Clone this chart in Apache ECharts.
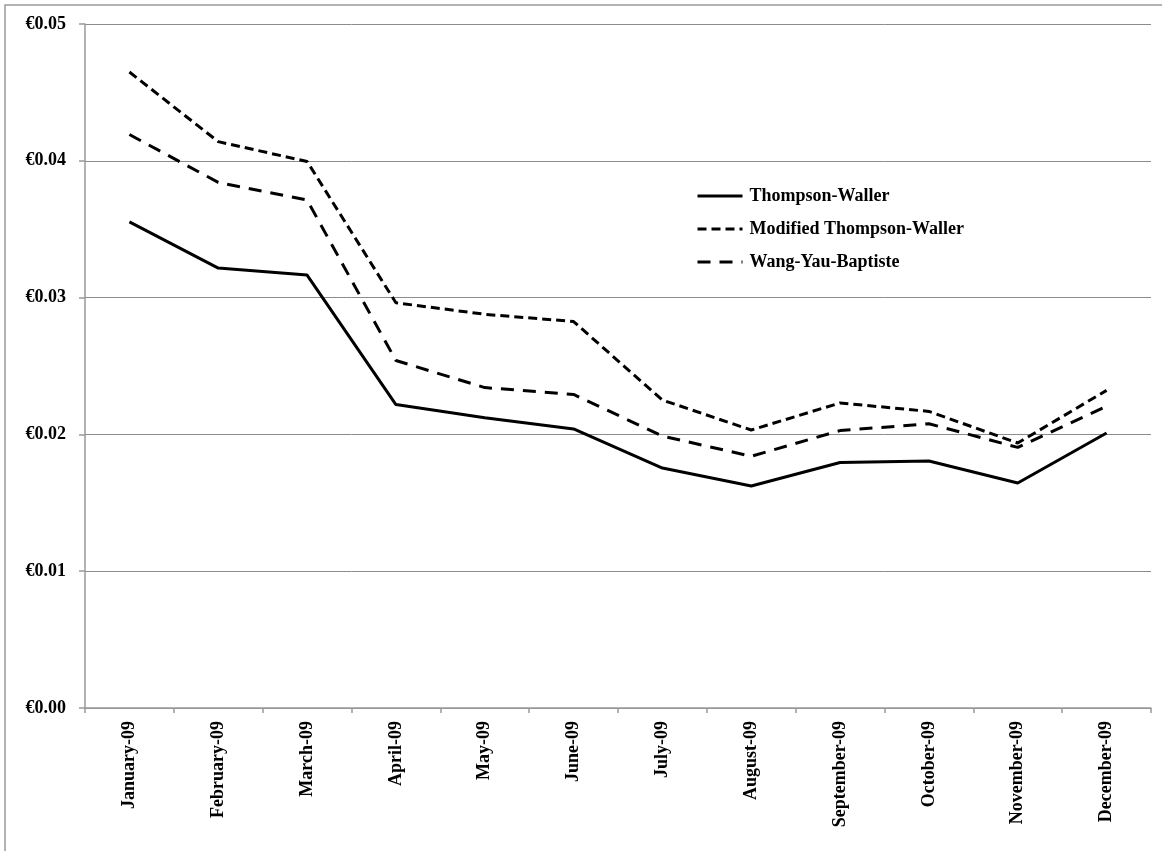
<!DOCTYPE html>
<html>
<head>
<meta charset="utf-8">
<script src="https://cdn.jsdelivr.net/npm/echarts@6/dist/echarts.min.js"></script>
<style>html,body{margin:0;padding:0;background:#fff}#c{width:1162px;height:851px}</style>
</head>
<body>
<div id="c"></div>
<script>
const categories = ['January-09','February-09','March-09','April-09','May-09','June-09','July-09','August-09','September-09','October-09','November-09','December-09'];
const thompsonWaller = [0.03553,0.03216,0.03165,0.02218,0.02122,0.02040,0.01754,0.01623,0.01795,0.01806,0.01645,0.02010];
const modifiedTW = [0.04649,0.04140,0.03995,0.02962,0.02878,0.02825,0.02251,0.02032,0.02230,0.02168,0.01937,0.02322];
const wangYauBaptiste = [0.04192,0.03842,0.03713,0.02540,0.02342,0.02292,0.01988,0.01840,0.02028,0.02078,0.01905,0.02205];
const yTicks = [0, 0.01, 0.02, 0.03, 0.04, 0.05];

const font = '"Liberation Serif", "Times New Roman", serif';
const chart = echarts.init(document.getElementById('c'));
chart.setOption({
  animation: false,
  backgroundColor: '#fff',
  graphic: [{
    type: 'rect',
    shape: { x: 5, y: 5, width: 1200, height: 900 },
    style: { fill: 'none', stroke: '#9a9a9a', lineWidth: 1.5 }
  }],
  grid: { left: 85, right: 11, top: 24, bottom: 143 },
  legend: {
    orient: 'vertical', left: 691, top: 182,
    itemWidth: 45, itemHeight: 14, itemGap: 15,
    itemStyle: { opacity: 0 },
    lineStyle: { width: 3 },
    textStyle: { fontFamily: font, fontWeight: 'bold', fontSize: 18, color: '#000', padding: [0, 0, 0, 2] },
    data: ['Thompson-Waller', 'Modified Thompson-Waller', 'Wang-Yau-Baptiste']
  },
  xAxis: {
    type: 'category', data: categories, boundaryGap: true,
    axisLine: { lineStyle: { color: '#999', width: 1.5 } },
    axisTick: { show: true, length: 5, alignWithLabel: false, lineStyle: { color: '#999', width: 1.5 } },
    axisLabel: { rotate: 90, margin: 13, interval: 0, fontFamily: font, fontWeight: 'bold', fontSize: 18, color: '#000' }
  },
  yAxis: {
    type: 'value', min: yTicks[0], max: yTicks[yTicks.length - 1], interval: 0.01,
    axisLine: { show: true, lineStyle: { color: '#999', width: 1.5 } },
    axisTick: { show: true, length: 6, lineStyle: { color: '#999', width: 1.5 } },
    splitLine: { lineStyle: { color: '#8c8c8c', width: 1 } },
    axisLabel: { margin: 19, fontFamily: font, fontWeight: 'bold', fontSize: 18, color: '#000',
      formatter: v => '€' + v.toFixed(2) }
  },
  series: [
    { name: 'Thompson-Waller', type: 'line', data: thompsonWaller, symbol: 'none',
      lineStyle: { color: '#000', width: 3, type: 'solid' }, itemStyle: { color: '#000' } },
    { name: 'Modified Thompson-Waller', type: 'line', data: modifiedTW, symbol: 'none',
      lineStyle: { color: '#000', width: 3, type: [9, 5] }, itemStyle: { color: '#000' } },
    { name: 'Wang-Yau-Baptiste', type: 'line', data: wangYauBaptiste, symbol: 'none',
      lineStyle: { color: '#000', width: 3, type: [13, 9] }, itemStyle: { color: '#000' } }
  ]
});
</script>
</body>
</html>
